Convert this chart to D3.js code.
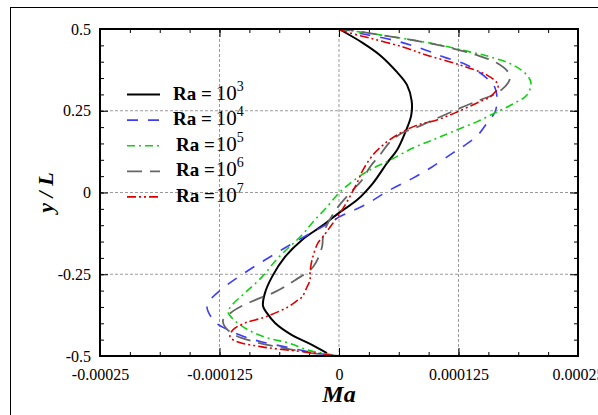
<!DOCTYPE html>
<html>
<head>
<meta charset="utf-8">
<script src="https://cdn.jsdelivr.net/npm/d3@7"></script>
<style>
  body { margin: 0; background: #fff; }
  svg { display: block; }
</style>
</head>
<body>
<svg id="chart" width="598" height="415" font-family="'Liberation Serif', 'Times New Roman', serif"></svg>
<script>
// Ma values are in units of 1e-5, y/L is dimensionless
const ra3 = [[0,0.5],[2.51,0.457],[4.29,0.42],[6.07,0.368],[7.11,0.329],[7.6,0.28],[7.55,0.235],[6.9,0.182],[6.07,0.13],[5.02,0.09],[3.56,0.029],[1.88,-0.023],[0.1,-0.06],[-1.78,-0.102],[-3.87,-0.145],[-5.65,-0.197],[-7.01,-0.258],[-7.74,-0.307],[-7.95,-0.347],[-7.53,-0.369],[-6.69,-0.399],[-4.92,-0.436],[-3.24,-0.46],[-1.26,-0.491]];
const ra4 = [[0,0.5],[0.8,0.497],[2.2,0.487],[5.65,0.466],[8.47,0.442],[10.88,0.415],[13.36,0.39],[15.45,0.35],[16.32,0.32],[16.53,0.283],[16.32,0.246],[15.48,0.2125],[14.54,0.176],[13.18,0.145],[11.92,0.121],[9.73,0.078],[7.74,0.044],[5.33,0.008],[2.72,-0.038],[0.42,-0.069],[-1.99,-0.109],[-3.87,-0.139],[-6.38,-0.182],[-9.1,-0.231],[-11.72,-0.283],[-13.49,-0.329],[-13.81,-0.35],[-12.97,-0.396],[-11.61,-0.42],[-9.83,-0.442],[-8.05,-0.457],[-5.65,-0.472],[-3.56,-0.485],[-1.78,-0.494],[-0.3,-0.498]];
const ra5 = [[0,0.5],[1.46,0.494],[4.29,0.482],[9.52,0.457],[13.7,0.43],[15.8,0.415],[18.2,0.39],[19.66,0.359],[20.08,0.335],[19.66,0.298],[18.4,0.274],[16.5,0.246],[14.4,0.216],[11.8,0.185],[9.83,0.161],[7.74,0.136],[5.33,0.099],[3.24,0.069],[1.88,0.044],[0.1,0.0015],[-1.26,-0.044],[-2.72,-0.09],[-3.87,-0.13],[-6.38,-0.2],[-8.05,-0.258],[-9.83,-0.307],[-11.19,-0.344],[-11.61,-0.365],[-11.19,-0.384],[-9.52,-0.42],[-7.43,-0.445],[-5.33,-0.46],[-3.24,-0.482],[-1.78,-0.491],[-0.63,-0.497]];
const ra6 = [[0,0.5],[1.15,0.497],[4.29,0.482],[7.74,0.466],[11.3,0.445],[14.44,0.42],[16.53,0.396],[17.68,0.369],[17.89,0.353],[17.68,0.335],[16.53,0.304],[14.75,0.283],[12.66,0.258],[10.56,0.231],[8.16,0.2],[6.59,0.182],[5.33,0.154],[4.29,0.115],[3.24,0.078],[2.41,0.038],[1.15,-0.0015],[-0.1,-0.044],[-1.26,-0.099],[-1.67,-0.136],[-1.78,-0.167],[-2.72,-0.228],[-4.6,-0.268],[-6.69,-0.304],[-8.79,-0.329],[-10.56,-0.353],[-11.19,-0.365],[-12.13,-0.39],[-11.92,-0.411],[-10.88,-0.436],[-8.79,-0.457],[-6.38,-0.472],[-3.56,-0.488],[-1.15,-0.497],[0,-0.5]];
const ra7 = [[0,0.5],[0.42,0.494],[3.24,0.472],[6.69,0.445],[9.2,0.42],[12.66,0.39],[15.48,0.359],[16.53,0.335],[16.63,0.32],[16.32,0.307],[15.79,0.292],[14.44,0.274],[12.34,0.246],[10.25,0.222],[8.16,0.206],[6.07,0.176],[4.6,0.145],[3.56,0.115],[2.51,0.069],[1.88,0.029],[0.94,-0.023],[0.1,-0.063],[-0.94,-0.106],[-1.78,-0.139],[-2.2,-0.154],[-2.82,-0.206],[-3.03,-0.246],[-3.03,-0.268],[-3.35,-0.289],[-3.87,-0.32],[-4.29,-0.329],[-5.33,-0.35],[-7.74,-0.381],[-9.83,-0.399],[-11.09,-0.42],[-11.4,-0.442],[-10.56,-0.457],[-8.05,-0.472],[-5.33,-0.482],[-2.51,-0.491],[-0.4,-0.5]];

const seriesNames = ['3', '4', '5', '6', '7'];
const seriesData = [ra3, ra4, ra5, ra6, ra7];
const seriesColors = ['#000000', '#3c3cff', '#10d010', '#666666', '#dd0000'];
const seriesDash = ['none', '11,10', '8,4,2,4', '15,8', '9,3,2,3,2,3'];
const seriesWidth = [2, 1.6, 1.6, 1.8, 1.6];

const xTicks = [-0.00025, -0.000125, 0, 0.000125, 0.00025];
const xTickLabels = ['-0.00025', '-0.000125', '0', '0.000125', '0.00025'];
const yTicks = [-0.5, -0.25, 0, 0.25, 0.5];
const yTickLabels = ['-0.5', '-0.25', '0', '0.25', '0.5'];

const MA_UNIT = 1e-5;
const SERIF = "'Liberation Serif', 'Times New Roman', serif";

const svg = d3.select('#chart');
const margin = { top: 29, right: 20, bottom: 59, left: 100 };
const width = 598 - margin.left - margin.right;
const height = 415 - margin.top - margin.bottom;

// outer frame
svg.append('rect')
    .attr('x', 10.5).attr('y', 7.5)
    .attr('width', 620).attr('height', 430)
    .attr('fill', 'none').attr('stroke', '#000').attr('stroke-width', 1);

const g = svg.append('g').attr('transform', `translate(${margin.left},${margin.top})`);

const x = d3.scaleLinear().domain([-0.00025, 0.00025]).range([0, width]);
const y = d3.scaleLinear().domain([-0.5, 0.5]).range([height, 0]);

// grid
g.append('g').selectAll('line')
    .data(xTicks.slice(1, -1))
    .enter().append('line')
    .attr('x1', d => x(d)).attr('x2', d => x(d))
    .attr('y1', 0).attr('y2', height)
    .attr('stroke', '#9a9a9a').attr('stroke-width', 1)
    .attr('stroke-dasharray', '3,2');
g.append('g').selectAll('line')
    .data(yTicks.slice(1, -1))
    .enter().append('line')
    .attr('y1', d => y(d)).attr('y2', d => y(d))
    .attr('x1', 0).attr('x2', width)
    .attr('stroke', '#9a9a9a').attr('stroke-width', 1)
    .attr('stroke-dasharray', '3,2');

// minor ticks
const xMinor = d3.range(-0.00025, 0.00025 + 1e-9, 0.00003125);
const yMinor = d3.range(-0.5, 0.5001, 0.05);

function addAxis(axis, tx, ty) {
    const a = g.append('g')
        .attr('transform', `translate(${tx},${ty})`)
        .call(axis);
    a.attr('font-family', SERIF).attr('font-size', 16);
    a.select('.domain').remove();
    a.selectAll('line').attr('stroke', '#000').attr('stroke-width', 1);
    return a;
}

addAxis(d3.axisBottom(x).tickValues(xMinor).tickSize(-4).tickFormat(''), 0, height);
addAxis(d3.axisTop(x).tickValues(xMinor).tickSize(-4).tickFormat(''), 0, 0);
addAxis(d3.axisLeft(y).tickValues(yMinor).tickSize(-4).tickFormat(''), 0, 0);
addAxis(d3.axisRight(y).tickValues(yMinor).tickSize(-4).tickFormat(''), width, 0);

// major ticks with labels
const xAxis = addAxis(d3.axisBottom(x).tickValues(xTicks).tickSize(-8).tickPadding(13)
    .tickFormat((d, i) => xTickLabels[i]), 0, height);
xAxis.selectAll('text').attr('fill', '#000');
const yAxis = addAxis(d3.axisLeft(y).tickValues(yTicks).tickSize(-8).tickPadding(9)
    .tickFormat((d, i) => yTickLabels[i]), 0, 0);
yAxis.selectAll('text').attr('fill', '#000');
addAxis(d3.axisTop(x).tickValues(xTicks).tickSize(-8).tickFormat(''), 0, 0);
addAxis(d3.axisRight(y).tickValues(yTicks).tickSize(-8).tickFormat(''), width, 0);

// curves
const line = d3.line()
    .x(d => x(d[0] * MA_UNIT))
    .y(d => y(d[1]))
    .curve(d3.curveCatmullRom.alpha(0.5));

g.append('g').selectAll('path')
    .data(seriesData)
    .enter().append('path')
    .attr('d', d => line(d))
    .attr('fill', 'none')
    .attr('stroke', (d, i) => seriesColors[i])
    .attr('stroke-width', (d, i) => seriesWidth[i])
    .attr('stroke-dasharray', (d, i) => seriesDash[i]);

// plot border
g.append('rect')
    .attr('width', width).attr('height', height)
    .attr('fill', 'none').attr('stroke', '#000').attr('stroke-width', 2);

// axis titles
svg.append('text')
    .attr('x', margin.left + x(0)).attr('y', 402)
    .attr('text-anchor', 'middle')
    .attr('font-size', 24).attr('font-weight', 'bold').attr('font-style', 'italic')
    .text('Ma');
svg.append('text')
    .attr('transform', `translate(53,${margin.top + y(0)}) rotate(-90)`)
    .attr('text-anchor', 'middle')
    .attr('font-size', 22).attr('font-weight', 'bold').attr('font-style', 'italic')
    .text('y / L');

// legend
const legend = svg.append('g');
const rows = legend.selectAll('g')
    .data(seriesNames)
    .enter().append('g')
    .attr('transform', (d, i) => `translate(0,${99.5 + i * 25.6})`);
rows.append('line')
    .attr('x1', 127).attr('x2', 160)
    .attr('y1', -5).attr('y2', -5)
    .attr('stroke', (d, i) => seriesColors[i])
    .attr('stroke-width', (d, i) => seriesWidth[i])
    .attr('stroke-dasharray', (d, i) => seriesDash[i]);
const lt = rows.append('text')
    .attr('x', (d, i) => i < 2 ? 173 : 176)
    .attr('y', 0);
lt.append('tspan').attr('font-weight', 'bold').attr('font-size', 19).text('Ra =');
lt.append('tspan').attr('font-size', 21).attr('dx', (d, i) => i < 2 ? 4 : 1).text('10');
lt.append('tspan').attr('font-size', 14).attr('dy', -9).text(d => d);
</script>
</body>
</html>
